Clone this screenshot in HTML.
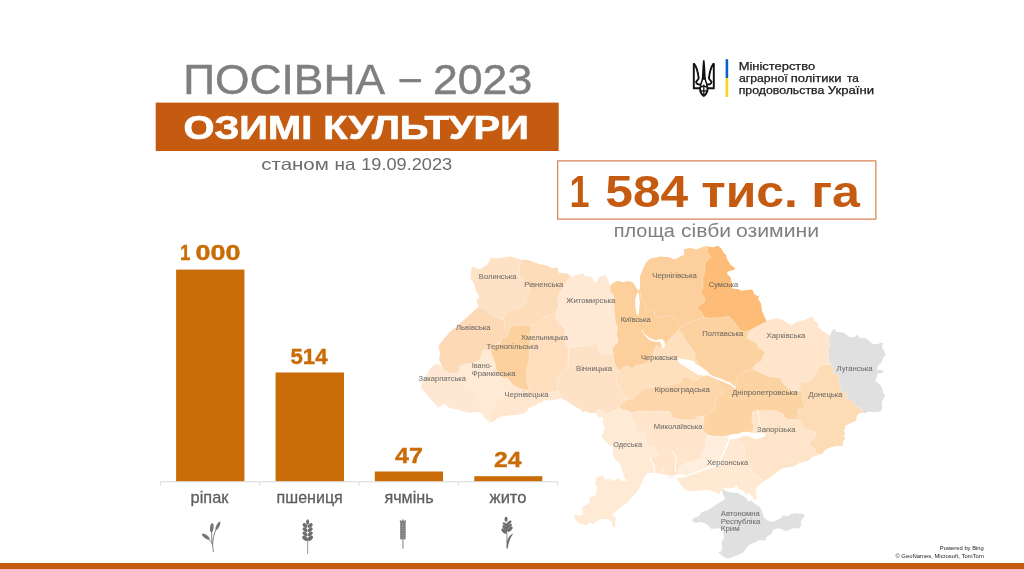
<!DOCTYPE html>
<html lang="uk">
<head>
<meta charset="utf-8">
<title>Посівна – 2023. Озимі культури</title>
<style>
html,body{margin:0;padding:0;background:#fff;}
body{width:1024px;height:569px;overflow:hidden;}
svg{display:block;font-family:"Liberation Sans",sans-serif;}
</style>
</head>
<body>
<svg width="1024" height="569" viewBox="0 0 1024 569">
<rect width="1024" height="569" fill="#ffffff"/>
<defs><clipPath id="ua"><polygon points="455.4,327.6 467.9,316.6 478.8,306.5 476.5,300.2 479.6,297.1 476.5,291.6 474.1,283.8 470.7,278.3 471.8,266.6 478.0,268.9 480.4,268.9 488.2,264.2 490.5,257.5 497.6,258.5 503.8,257.5 510.1,256.4 517.9,258.8 521.4,260.3 525.7,259.5 533.6,261.9 539.8,264.2 547.6,265.8 552.3,268.2 557.8,267.4 558.6,272.8 566.4,273.6 570.2,275.2 571.7,277.5 575.6,275.2 582.7,273.6 585.0,276.0 591.3,276.8 593.6,281.4 596.8,282.2 599.1,276.8 605.4,275.2 607.7,279.1 610.0,285.4 613.2,283.0 617.9,280.7 622.6,282.2 628.8,281.0 633.5,283.0 636.6,288.5 639.0,290.8 640.5,286.9 639.8,277.5 642.1,271.3 645.2,263.5 649.9,258.8 653.8,258.0 660.1,256.4 669.5,257.2 674.2,259.5 680.4,256.4 684.3,254.9 683.6,249.4 689.8,247.8 696.1,249.4 703.9,246.6 707.8,246.3 711.9,247.5 718.2,245.9 721.3,248.6 723.6,252.5 726.0,254.9 726.8,258.8 730.7,265.0 734.6,267.4 734.6,269.7 728.3,271.3 726.8,273.6 730.7,277.5 731.4,281.4 732.2,285.4 732.2,288.5 738.5,289.3 741.6,290.8 748.6,289.7 752.6,289.7 754.1,294.0 757.3,296.0 759.6,295.5 758.0,298.6 761.2,304.1 761.9,310.4 764.3,316.6 766.9,321.6 771.3,319.8 777.6,318.2 782.3,319.8 787.0,322.9 791.7,325.2 796.3,322.1 802.6,320.5 808.9,318.2 812.8,316.6 813.6,320.3 817.5,322.7 818.3,327.4 823.0,331.3 826.9,333.6 830.0,336.0 832.4,330.5 834.7,328.9 836.3,332.1 844.1,332.8 848.8,336.8 854.3,337.5 857.4,334.4 859.8,338.3 866.0,338.3 869.9,341.4 873.1,344.6 878.5,343.8 883.2,342.2 881.7,346.9 884.0,350.8 885.6,354.7 882.4,358.6 881.7,362.6 877.7,365.7 877.0,369.6 883.2,370.4 883.2,372.7 877.7,373.5 875.4,381.3 880.1,384.5 882.4,388.8 883.2,393.5 885.6,395.0 883.2,398.9 881.7,402.8 882.4,406.8 880.9,411.4 873.8,412.2 869.1,411.4 864.5,413.0 862.9,412.2 858.2,413.8 856.6,416.9 855.9,420.8 850.4,423.2 845.7,425.5 844.1,430.2 844.9,434.1 843.3,437.3 845.7,438.0 842.6,441.9 842.6,445.9 836.3,445.9 830.0,447.4 825.4,449.8 822.2,453.7 819.9,454.5 812.6,457.1 807.9,461.0 800.1,462.6 793.8,466.5 787.6,467.3 781.3,468.8 775.1,473.5 768.8,478.2 765.7,479.8 767.0,478.1 763.8,481.3 757.6,485.9 755.2,490.6 756.8,496.9 755.2,500.8 751.3,495.3 748.2,492.2 746.6,495.3 743.5,490.6 738.8,489.1 736.5,484.4 734.1,487.5 729.4,488.3 722.4,488.3 721.6,489.9 718.5,494.5 715.4,492.2 710.7,490.6 704.4,489.9 698.2,490.6 691.9,491.4 685.6,489.9 682.5,486.7 679.4,482.0 676.3,478.1 669.5,478.1 666.3,476.6 672.6,477.4 678.9,478.2 685.1,477.4 685.1,475.1 678.9,473.5 672.6,475.9 666.3,475.1 660.1,473.5 653.8,472.7 647.6,473.5 644.5,476.6 642.9,481.3 639.8,487.5 636.6,493.0 631.2,497.7 629.6,500.8 622.6,506.3 614.0,513.3 612.4,516.0 616.0,517.2 615.5,521.9 615.1,527.9 613.2,527.4 611.6,521.9 608.5,519.6 603.8,518.8 598.3,520.4 592.8,524.3 588.9,522.7 586.6,525.8 579.5,523.5 575.6,520.4 574.1,516.0 575.6,514.1 579.5,516.0 582.7,514.1 581.9,508.6 583.5,506.3 588.9,503.2 589.7,497.7 595.2,495.3 596.0,492.2 597.5,488.3 595.2,484.4 596.0,479.7 595.2,479.0 598.3,476.6 602.2,475.1 605.4,479.8 610.0,478.2 613.2,481.3 617.9,477.4 621.8,481.3 626.5,480.5 624.1,476.6 621.8,470.4 621.0,465.7 617.1,461.8 614.0,457.9 612.4,451.6 613.2,446.9 608.5,444.6 605.4,441.4 601.4,436.8 603.0,433.6 604.6,427.4 603.0,423.5 603.0,418.0 598.3,417.2 595.2,413.3 589.2,412.8 586.1,411.3 582.9,412.1 579.8,408.9 575.1,406.6 570.4,403.5 565.7,400.3 561.0,398.0 556.3,399.5 550.1,400.3 543.8,400.3 540.7,403.5 539.1,402.7 535.2,405.8 529.8,407.4 526.6,410.5 523.5,413.6 515.7,414.7 509.4,415.2 501.6,416.0 496.9,418.3 493.8,421.4 489.1,421.4 484.4,417.5 481.3,412.8 475.0,412.1 468.8,412.8 462.5,411.3 456.3,408.9 450.0,408.2 444.0,403.5 437.7,407.5 433.7,401.9 430.6,399.6 425.0,392.5 420.8,386.9 421.9,382.2 428.2,372.7 429.8,368.7 433.7,365.6 436.1,363.7 442.4,366.4 439.2,360.0 440.0,353.7 438.5,345.8 442.8,340.3 450.7,330.9"/></clipPath></defs>
<polygon points="722.4,488.3 724.7,490.6 729.4,492.2 737.3,493.0 741.9,495.3 746.6,498.5 748.2,501.6 751.3,500.8 755.2,503.9 759.9,507.1 762.3,511.8 763.8,517.2 767.7,520.4 771.7,521.9 776.3,520.4 781.0,518.0 783.4,514.9 787.3,516.4 791.2,514.1 796.7,513.3 802.9,514.1 805.3,516.0 802.9,518.0 800.6,521.9 801.4,525.0 799.0,528.2 793.6,528.2 788.9,529.7 785.7,531.3 781.8,529.0 777.9,528.2 773.2,529.7 771.7,533.6 767.0,536.8 764.6,540.7 759.9,539.9 755.2,542.3 749.8,544.6 745.9,548.5 743.5,552.4 738.8,554.8 732.6,557.1 727.9,558.7 724.0,557.1 720.0,554.0 718.2,552.4 721.6,550.9 722.4,546.2 721.6,542.3 724.0,537.6 723.2,532.9 724.0,529.0 716.9,528.2 711.4,529.0 706.8,524.3 701.3,521.9 695.0,522.7 691.9,521.1 693.5,518.0 698.9,516.0 701.3,512.5 707.5,510.2 713.8,506.3 718.5,503.2 722.4,500.8 725.5,498.5 723.2,495.3 722.4,492.2" fill="#e0e0e0"/>
<g clip-path="url(#ua)" stroke="#ffffff" stroke-opacity="0.55" stroke-width="0.6" stroke-linejoin="round">
<polygon points="455.4,327.6 467.9,316.6 478.8,306.5 476.5,300.2 479.6,297.1 476.5,291.6 474.1,283.8 470.7,278.3 471.8,266.6 478.0,268.9 480.4,268.9 488.2,264.2 490.5,257.5 497.6,258.5 503.8,257.5 510.1,256.4 517.9,258.8 521.4,260.3 525.7,259.5 533.6,261.9 539.8,264.2 547.6,265.8 552.3,268.2 557.8,267.4 558.6,272.8 566.4,273.6 570.2,275.2 571.7,277.5 575.6,275.2 582.7,273.6 585.0,276.0 591.3,276.8 593.6,281.4 596.8,282.2 599.1,276.8 605.4,275.2 607.7,279.1 610.0,285.4 613.2,283.0 617.9,280.7 622.6,282.2 628.8,281.0 633.5,283.0 636.6,288.5 639.0,290.8 640.5,286.9 639.8,277.5 642.1,271.3 645.2,263.5 649.9,258.8 653.8,258.0 660.1,256.4 669.5,257.2 674.2,259.5 680.4,256.4 684.3,254.9 683.6,249.4 689.8,247.8 696.1,249.4 703.9,246.6 707.8,246.3 711.9,247.5 718.2,245.9 721.3,248.6 723.6,252.5 726.0,254.9 726.8,258.8 730.7,265.0 734.6,267.4 734.6,269.7 728.3,271.3 726.8,273.6 730.7,277.5 731.4,281.4 732.2,285.4 732.2,288.5 738.5,289.3 741.6,290.8 748.6,289.7 752.6,289.7 754.1,294.0 757.3,296.0 759.6,295.5 758.0,298.6 761.2,304.1 761.9,310.4 764.3,316.6 766.9,321.6 771.3,319.8 777.6,318.2 782.3,319.8 787.0,322.9 791.7,325.2 796.3,322.1 802.6,320.5 808.9,318.2 812.8,316.6 813.6,320.3 817.5,322.7 818.3,327.4 823.0,331.3 826.9,333.6 830.0,336.0 832.4,330.5 834.7,328.9 836.3,332.1 844.1,332.8 848.8,336.8 854.3,337.5 857.4,334.4 859.8,338.3 866.0,338.3 869.9,341.4 873.1,344.6 878.5,343.8 883.2,342.2 881.7,346.9 884.0,350.8 885.6,354.7 882.4,358.6 881.7,362.6 877.7,365.7 877.0,369.6 883.2,370.4 883.2,372.7 877.7,373.5 875.4,381.3 880.1,384.5 882.4,388.8 883.2,393.5 885.6,395.0 883.2,398.9 881.7,402.8 882.4,406.8 880.9,411.4 873.8,412.2 869.1,411.4 864.5,413.0 862.9,412.2 858.2,413.8 856.6,416.9 855.9,420.8 850.4,423.2 845.7,425.5 844.1,430.2 844.9,434.1 843.3,437.3 845.7,438.0 842.6,441.9 842.6,445.9 836.3,445.9 830.0,447.4 825.4,449.8 822.2,453.7 819.9,454.5 812.6,457.1 807.9,461.0 800.1,462.6 793.8,466.5 787.6,467.3 781.3,468.8 775.1,473.5 768.8,478.2 765.7,479.8 767.0,478.1 763.8,481.3 757.6,485.9 755.2,490.6 756.8,496.9 755.2,500.8 751.3,495.3 748.2,492.2 746.6,495.3 743.5,490.6 738.8,489.1 736.5,484.4 734.1,487.5 729.4,488.3 722.4,488.3 721.6,489.9 718.5,494.5 715.4,492.2 710.7,490.6 704.4,489.9 698.2,490.6 691.9,491.4 685.6,489.9 682.5,486.7 679.4,482.0 676.3,478.1 669.5,478.1 666.3,476.6 672.6,477.4 678.9,478.2 685.1,477.4 685.1,475.1 678.9,473.5 672.6,475.9 666.3,475.1 660.1,473.5 653.8,472.7 647.6,473.5 644.5,476.6 642.9,481.3 639.8,487.5 636.6,493.0 631.2,497.7 629.6,500.8 622.6,506.3 614.0,513.3 612.4,516.0 616.0,517.2 615.5,521.9 615.1,527.9 613.2,527.4 611.6,521.9 608.5,519.6 603.8,518.8 598.3,520.4 592.8,524.3 588.9,522.7 586.6,525.8 579.5,523.5 575.6,520.4 574.1,516.0 575.6,514.1 579.5,516.0 582.7,514.1 581.9,508.6 583.5,506.3 588.9,503.2 589.7,497.7 595.2,495.3 596.0,492.2 597.5,488.3 595.2,484.4 596.0,479.7 595.2,479.0 598.3,476.6 602.2,475.1 605.4,479.8 610.0,478.2 613.2,481.3 617.9,477.4 621.8,481.3 626.5,480.5 624.1,476.6 621.8,470.4 621.0,465.7 617.1,461.8 614.0,457.9 612.4,451.6 613.2,446.9 608.5,444.6 605.4,441.4 601.4,436.8 603.0,433.6 604.6,427.4 603.0,423.5 603.0,418.0 598.3,417.2 595.2,413.3 589.2,412.8 586.1,411.3 582.9,412.1 579.8,408.9 575.1,406.6 570.4,403.5 565.7,400.3 561.0,398.0 556.3,399.5 550.1,400.3 543.8,400.3 540.7,403.5 539.1,402.7 535.2,405.8 529.8,407.4 526.6,410.5 523.5,413.6 515.7,414.7 509.4,415.2 501.6,416.0 496.9,418.3 493.8,421.4 489.1,421.4 484.4,417.5 481.3,412.8 475.0,412.1 468.8,412.8 462.5,411.3 456.3,408.9 450.0,408.2 444.0,403.5 437.7,407.5 433.7,401.9 430.6,399.6 425.0,392.5 420.8,386.9 421.9,382.2 428.2,372.7 429.8,368.7 433.7,365.6 436.1,363.7 442.4,366.4 439.2,360.0 440.0,353.7 438.5,345.8 442.8,340.3 450.7,330.9" fill="#ffead5" stroke="none"/>
<polygon points="410.0,350.0 460.0,365.0 470.0,385.0 490.0,410.0 495.0,430.0 410.0,430.0" fill="#fee8d3"/>
<polygon points="458.7,371.4 460.6,377.4 461.7,380.0 465.6,386.3 471.9,390.9 476.6,395.6 480.5,401.9 482.8,408.2 482.1,412.1 484.0,430.0 510.0,430.0 540.0,395.0 500.0,340.0 470.0,345.0 455.0,368.0" fill="#ffead6"/>
<polygon points="512.4,384.5 504.0,395.6 498.5,400.3 493.8,405.0 490.7,409.7 489.9,416.0 491.0,421.4 491.0,427.0 520.0,427.0 566.0,407.0 566.0,385.0 511.0,380.0" fill="#fee6cf"/>
<polygon points="442.4,366.4 444.0,370.3 450.3,373.5 457.4,372.7 458.7,371.4 460.6,365.6 466.9,363.7 473.2,363.2 478.8,360.8 481.1,356.1 483.5,349.8 490.6,351.3 495.0,345.0 512.0,335.0 512.0,312.0 478.0,298.0 425.0,340.0 438.0,362.0" fill="#fdd9b5"/>
<polygon points="478.8,306.5 485.1,309.6 491.3,314.3 497.6,317.9 503.8,319.8 530.0,322.0 535.0,255.0 470.0,250.0 462.0,295.0" fill="#fee2c5"/>
<polygon points="521.4,260.3 519.9,265.0 519.0,271.3 519.5,277.5 524.2,281.0 528.9,286.9 529.6,291.6 527.0,296.3 526.5,301.8 523.4,306.5 519.5,308.0 510.1,310.1 504.9,313.5 503.8,319.8 504.8,324.2 504.2,327.1 506.0,329.8 508.3,331.0 510.0,336.0 575.0,336.0 578.0,265.0 521.0,250.0" fill="#fddcb9"/>
<polygon points="508.3,331.0 510.4,328.3 512.1,325.9 516.6,325.3 522.4,325.0 528.3,325.3 530.7,325.9 533.0,328.5 540.0,332.0 540.0,395.0 527.0,393.0 528.6,391.8 526.0,390.6 521.2,388.9 516.5,387.1 512.4,384.5 510.1,381.2 507.1,377.9 502.6,378.6 500.6,375.3 495.9,369.4 495.3,364.1 493.6,360.0 492.0,355.3 490.5,350.5 494.0,347.3 500.1,343.0 501.2,339.5 507.7,335.3 508.3,331.0" fill="#fdd19e"/>
<polygon points="530.7,325.9 534.2,324.2 540.1,320.6 546.0,316.5 553.1,313.6 557.0,314.0 576.0,310.0 576.0,396.0 557.9,390.9 551.7,391.7 543.8,394.1 537.6,394.9 529.8,391.7 526.5,390.7 528.9,388.8 527.3,382.6 526.5,374.7 527.3,366.9 529.6,359.1 528.9,351.3 530.4,343.5 529.6,335.6 531.2,327.8" fill="#fedebc"/>
<polygon points="570.2,276.3 566.3,282.2 561.6,290.0 560.1,291.6 557.8,299.4 558.6,305.7 556.2,313.5 556.4,320.0 560.3,324.7 565.0,329.4 565.8,337.2 565.0,343.5 568.2,348.2 568.0,362.0 622.0,362.0 625.0,280.0 600.0,262.0 570.0,262.0" fill="#ffe9d5"/>
<polygon points="568.2,348.2 576.0,346.6 586.9,345.8 594.7,343.5 598.6,345.0 599.4,352.8 605.7,354.7 611.2,353.6 612.3,348.2 630.0,346.0 632.0,405.0 618.6,407.0 616.3,409.4 611.6,412.5 605.4,413.3 598.3,409.4 595.2,413.3 590.0,422.0 563.0,410.0 561.0,398.0 559.5,395.6 557.9,390.9 557.1,387.8 557.2,379.4 560.3,373.2 565.8,370.0 568.2,365.4 568.9,356.0 568.2,348.2" fill="#fee2c6"/>
<polygon points="610.4,286.9 610.0,291.6 614.0,295.5 614.0,305.7 614.7,315.1 615.1,320.0 617.4,327.8 616.6,335.6 618.2,341.9 612.3,348.2 613.5,356.0 614.3,363.0 618.2,370.0 619.0,370.8 640.0,375.0 670.0,362.0 692.0,335.0 690.0,308.0 650.0,295.0 645.0,275.0 610.0,270.0" fill="#fdcf9b"/>
<polygon points="639.0,290.8 640.5,291.6 641.3,299.4 645.2,304.1 646.0,308.8 653.8,311.2 656.2,316.6 663.2,317.4 669.5,315.1 675.7,318.2 678.9,324.5 681.2,326.8 690.0,333.0 725.0,325.0 720.0,238.0 639.0,245.0" fill="#fccf9c"/>
<polygon points="619.0,370.8 622.9,366.9 627.6,366.1 632.3,368.5 635.4,365.4 641.7,364.6 647.9,362.2 652.6,356.0 654.2,349.7 656.5,345.8 661.2,347.4 662.8,348.2 665.1,345.0 672.9,335.6 677.6,330.9 685.0,328.0 700.0,345.0 705.0,375.0 690.0,395.0 640.0,405.0 626.0,399.8 625.2,399.8 622.9,393.5 620.5,387.3 616.6,382.6 615.9,375.5" fill="#fedfbe"/>
<polygon points="626.0,399.8 633.8,398.2 638.5,393.5 641.7,388.8 649.5,387.6 657.3,386.5 665.1,385.7 674.5,384.1 680.8,381.8 682.3,377.1 688.6,376.3 692.5,380.2 698.0,379.4 700.0,377.9 704.0,375.0 712.0,372.0 728.0,378.0 728.0,420.0 636.0,424.0 631.2,413.3 628.8,410.9 622.6,409.4 618.6,407.0 621.3,404.5" fill="#fdd6ab"/>
<polygon points="631.0,413.3 636.9,410.9 648.6,411.4 660.3,410.9 669.7,411.9 672.5,417.3 679.1,419.6 688.4,420.3 695.0,419.6 696.6,417.3 702.5,416.1 703.9,416.4 714.0,416.0 716.0,475.0 690.0,482.0 656.0,480.0 655.4,472.7 654.6,465.7 652.3,462.6 650.7,456.3 653.8,457.9 657.7,456.3 658.5,452.4 654.6,450.0 653.8,446.9 647.6,445.4 646.0,439.1 644.5,433.6 638.2,432.8 634.3,429.7 635.1,423.5 631.9,418.8" fill="#fee5cc"/>
<polygon points="708.0,246.3 707.2,252.5 711.1,257.2 707.2,260.3 704.4,265.0 704.9,271.3 702.5,279.1 703.3,285.4 700.9,293.2 704.9,297.9 704.1,302.6 698.6,305.7 697.5,308.8 701.7,311.9 704.1,317.4 706.0,335.0 775.0,335.0 775.0,300.0 745.0,240.0 708.0,236.0" fill="#fdbd78"/>
<polygon points="681.2,326.8 685.1,324.5 692.9,321.3 700.8,318.2 703.9,317.4 710.3,318.2 721.3,317.4 729.1,316.6 733.0,320.5 736.9,325.5 740.0,330.2 744.7,331.7 750.2,330.2 772.0,335.0 772.0,375.0 750.0,392.0 735.4,390.0 735.4,387.3 730.7,382.6 724.4,381.0 718.2,378.6 708.8,375.5 705.6,371.6 699.4,365.4 694.7,357.5 694.8,352.8 690.1,346.6 685.4,340.3 681.5,332.5 677.6,330.9" fill="#fcd2a0"/>
<polygon points="766.9,321.6 763.5,323.1 757.3,326.3 750.2,330.2 747.1,338.0 752.6,341.1 757.3,343.5 758.8,348.2 764.3,351.3 765.1,353.6 762.7,356.0 761.9,360.7 755.7,364.6 753.3,366.9 754.1,370.0 755.7,370.0 758.0,396.0 805.0,396.0 838.0,372.0 842.0,330.0 815.0,308.0 768.0,312.0" fill="#fee5cb"/>
<polygon points="755.7,370.0 761.9,373.2 768.2,376.3 774.5,377.1 780.7,377.9 783.1,383.3 787.0,387.3 791.7,390.4 792.4,390.4 808.0,392.0 808.0,428.0 780.0,442.0 708.0,442.0 707.8,435.2 706.2,433.6 702.3,429.3 703.5,423.5 703.9,416.4 706.3,415.6 709.4,411.7 715.6,409.4 715.6,404.0 716.6,398.2 721.3,393.5 723.6,388.8 718.2,384.9 718.2,380.0 718.2,378.6 724.4,381.0 730.7,382.6 735.4,387.3 735.4,387.3 736.1,381.0 738.5,375.5 743.2,372.4 749.4,369.7" fill="#fcd3a2"/>
<polygon points="706.3,435.2 712.5,436.0 720.3,436.8 728.2,436.0 745.0,432.0 765.0,440.0 772.0,485.0 760.0,500.0 680.0,500.0 660.0,482.0 676.0,477.0 678.9,472.7 678.1,468.8 682.0,465.7 688.2,462.6 697.6,460.2 703.9,457.9 701.5,453.2 703.9,450.0 707.0,445.4 705.4,440.7 707.8,435.2" fill="#ffe9d3"/>
<polygon points="706.3,435.2 712.5,436.0 720.3,436.8 728.2,436.0 729.3,439.0 727.2,444.7 725.3,449.1 723.4,453.6 721.5,456.7 719.0,464.3 685.1,476.3 683.6,474.8 678.9,472.7 678.1,468.8 682.0,465.7 688.2,462.6 697.6,460.2 703.9,457.9 701.5,453.2 703.9,450.0 707.0,445.4 705.4,440.7 707.8,435.2" fill="#ffeedd"/>
<polygon points="739.1,439.9 745.0,434.0 750.0,432.0 753.2,431.3 754.0,425.8 751.6,421.9 752.4,417.2 752.4,411.7 757.9,410.2 764.1,410.9 771.9,410.2 778.2,411.7 782.9,414.1 785.2,418.0 790.7,419.5 797.7,419.5 818.0,418.0 828.0,458.0 800.0,480.0 762.0,492.0 761.8,479.8 759.4,476.6 752.4,473.5 750.8,468.8 748.5,462.6 745.4,456.3 744.6,450.0 742.2,443.8" fill="#fee5ca"/>
<polygon points="792.4,390.4 799.5,387.3 800.3,382.6 807.3,381.8 813.6,377.9 815.1,374.0 819.8,366.9 822.9,364.6 829.2,364.6 831.6,364.9 845.0,362.0 870.0,415.0 850.0,440.0 830.0,465.0 818.9,454.0 815.7,453.2 814.2,448.5 809.5,445.4 810.3,440.7 815.0,437.5 816.5,432.8 809.5,430.5 804.0,428.2 801.7,423.5 797.7,419.5 798.5,414.1 797.7,410.2 804.0,408.6 804.8,404.7 801.8,399.8 802.6,393.5 799.5,389.6" fill="#fddbb5"/>
<polygon points="830.0,336.0 828.5,342.2 830.0,345.4 828.2,350.0 828.5,356.3 829.7,362.6 831.6,364.9 834.0,368.8 833.2,373.5 837.9,374.3 839.4,379.4 840.2,387.2 841.8,391.9 847.3,393.5 845.7,397.4 850.4,399.7 853.5,402.8 856.6,406.8 861.3,408.3 862.9,412.2 870.0,420.0 895.0,400.0 895.0,320.0 830.0,320.0" fill="#e0e0e0"/>
<polygon points="637.4,292.4 639.0,293.2 639.8,302.6 639.0,311.9 638.2,315.9 636.6,313.5 635.4,307.3 635.1,299.4 636.6,294.7" fill="#ffffff" stroke="none"/>
<polygon points="641.7,328.6 644.0,333.3 649.5,338.0 655.7,340.3 661.2,338.8 664.3,341.1 665.1,345.8 662.8,348.9 661.2,345.0 660.4,341.9 655.7,341.9 649.5,340.3 644.8,335.6 642.4,331.7" fill="#ffffff" stroke="none"/>
<polygon points="677.6,357.9 685.8,359.5 693.8,361.1 695.7,364.2 700.4,366.6 705.1,369.8 709.1,372.9 708.3,375.8 704.8,375.5 698.5,375.1 693.4,372.0 687.1,368.0 680.8,364.1 677.6,360.9" fill="#ffffff" stroke="none"/>
<polygon points="728.5,435.2 732.9,433.9 737.9,433.9 743.0,432.0 748.1,432.0 754.4,433.3 760.7,432.7 765.8,433.4 765.1,436.5 760.7,437.7 755.7,439.6 751.9,437.7 746.8,435.8 741.7,436.5 736.7,438.4 731.6,439.6 728.5,439.0" fill="#ffffff" stroke="none"/>
<polyline points="708.3,374.5 714.3,377.2 719.1,379.1 725.4,381.9 730.9,384.3 735.7,388.1" fill="none" stroke="#ffffff" stroke-opacity="1" stroke-width="1.7"/>
<polyline points="729.3,439.0 727.2,444.7 725.3,449.1 723.4,453.6 721.5,456.7 719.0,464.3 685.1,476.3" fill="none" stroke="#ffffff" stroke-opacity="1" stroke-width="1.4"/>
<polyline points="757.9,410.9 758.6,415.6 759.4,420.3 760.2,425.0 761.0,432.1" fill="none" stroke="#ffffff" stroke-opacity="1" stroke-width="0.8"/>
<polyline points="672.6,450.8 675.0,456.3 676.5,461.0 675.0,465.7 675.7,472.7" fill="none" stroke="#ffffff" stroke-opacity="1" stroke-width="0.9"/>
<polyline points="649.9,456.3 651.5,461.0 653.8,464.1 654.6,469.6 655.1,473.2" fill="none" stroke="#ffffff" stroke-opacity="1" stroke-width="0.9"/>
<polyline points="663.2,467.3 662.0,473.2" fill="none" stroke="#ffffff" stroke-opacity="1" stroke-width="0.7"/>
</g>
<g font-size="7.6" fill="#595959" fill-opacity="0.82" stroke="#595959" stroke-opacity="0.5" stroke-width="0.12">
<text x="478.8" y="278.8" textLength="37.6" lengthAdjust="spacingAndGlyphs">Волинська</text>
<text x="524.2" y="286.9" textLength="39.0" lengthAdjust="spacingAndGlyphs">Рівненська</text>
<text x="566.3" y="303.3" textLength="49.0" lengthAdjust="spacingAndGlyphs">Житомирська</text>
<text x="620.7" y="322.1" textLength="30.0" lengthAdjust="spacingAndGlyphs">Київська</text>
<text x="652.3" y="277.5" textLength="44.6" lengthAdjust="spacingAndGlyphs">Чернігівська</text>
<text x="708.8" y="286.6" textLength="29.4" lengthAdjust="spacingAndGlyphs">Сумська</text>
<text x="456.1" y="329.7" textLength="34.4" lengthAdjust="spacingAndGlyphs">Львівська</text>
<text x="521.0" y="340.3" textLength="47.0" lengthAdjust="spacingAndGlyphs">Хмельницька</text>
<text x="486.6" y="348.9" textLength="51.6" lengthAdjust="spacingAndGlyphs">Тернопільська</text>
<text x="471.8" y="368.2" textLength="20.3" lengthAdjust="spacingAndGlyphs">Івано-</text>
<text x="471.8" y="375.5" textLength="43.8" lengthAdjust="spacingAndGlyphs">Франківська</text>
<text x="418.6" y="381.3" textLength="47.4" lengthAdjust="spacingAndGlyphs">Закарпатська</text>
<text x="504.6" y="397.0" textLength="43.8" lengthAdjust="spacingAndGlyphs">Чернівецька</text>
<text x="576.0" y="371.3" textLength="36.0" lengthAdjust="spacingAndGlyphs">Вінницька</text>
<text x="640.9" y="359.9" textLength="36.7" lengthAdjust="spacingAndGlyphs">Черкаська</text>
<text x="654.5" y="391.9" textLength="55.3" lengthAdjust="spacingAndGlyphs">Кіровоградська</text>
<text x="702.2" y="336.4" textLength="41.0" lengthAdjust="spacingAndGlyphs">Полтавська</text>
<text x="766.6" y="338.0" textLength="38.8" lengthAdjust="spacingAndGlyphs">Харківська</text>
<text x="836.6" y="370.7" textLength="36.0" lengthAdjust="spacingAndGlyphs">Луганська</text>
<text x="808.5" y="397.0" textLength="34.0" lengthAdjust="spacingAndGlyphs">Донецька</text>
<text x="731.9" y="394.8" textLength="65.7" lengthAdjust="spacingAndGlyphs">Дніпропетровська</text>
<text x="757.1" y="431.6" textLength="38.3" lengthAdjust="spacingAndGlyphs">Запорізька</text>
<text x="707.0" y="464.9" textLength="41.2" lengthAdjust="spacingAndGlyphs">Херсонська</text>
<text x="653.8" y="428.9" textLength="48.8" lengthAdjust="spacingAndGlyphs">Миколаївська</text>
<text x="613.2" y="447.4" textLength="28.9" lengthAdjust="spacingAndGlyphs">Одеська</text>
<text x="720.8" y="516.0" textLength="39.0" lengthAdjust="spacingAndGlyphs">Автономна</text>
<text x="720.8" y="523.5" textLength="39.6" lengthAdjust="spacingAndGlyphs">Республіка</text>
<text x="720.8" y="531.0" textLength="18.8" lengthAdjust="spacingAndGlyphs">Крим</text>
</g>
<text y="94.0" font-size="43.2" fill="#7f7f7f" font-weight="normal" stroke="#7f7f7f" stroke-width="0.5"><tspan x="183.2" y="94.0" textLength="201.8" lengthAdjust="spacingAndGlyphs">ПОСІВНА</tspan> <tspan x="399.8" y="90.7" textLength="21.1" lengthAdjust="spacingAndGlyphs">–</tspan> <tspan x="433.0" y="94.0" textLength="99.2" lengthAdjust="spacingAndGlyphs">2023</tspan></text>
<rect x="155.7" y="102.6" width="403" height="48.4" fill="#c55a11"/>
<text x="183.4" y="139.1" font-size="32.8" fill="#ffffff" font-weight="bold" text-anchor="start" textLength="345.4" lengthAdjust="spacingAndGlyphs" stroke="#ffffff" stroke-width="0.7">ОЗИМІ КУЛЬТУРИ</text>
<text y="169.9" font-size="16.5" fill="#6b6b6b" font-weight="normal"><tspan x="261.3" y="169.9" textLength="67.5" lengthAdjust="spacingAndGlyphs">станом</tspan> <tspan x="334.6" y="169.9" textLength="21.0" lengthAdjust="spacingAndGlyphs">на</tspan> <tspan x="361.2" y="169.9" textLength="91.0" lengthAdjust="spacingAndGlyphs">19.09.2023</tspan></text>
<rect x="725.6" y="59.2" width="2.6" height="18.9" fill="#0f5fc2"/>
<rect x="725.6" y="78.1" width="2.6" height="18.9" fill="#ffd21f"/>
<text x="738.7" y="70.1" font-size="10.4" fill="#1a1a1a" font-weight="normal" text-anchor="start" textLength="76.5" lengthAdjust="spacingAndGlyphs" stroke="#1a1a1a" stroke-width="0.25">Міністерство</text>
<text y="82.2" font-size="10.4" fill="#1a1a1a" font-weight="normal" stroke="#1a1a1a" stroke-width="0.25"><tspan x="739.0" y="82.2" textLength="48.6" lengthAdjust="spacingAndGlyphs">аграрної</tspan> <tspan x="790.8" y="82.2" textLength="50.6" lengthAdjust="spacingAndGlyphs">політики</tspan> <tspan x="846.9" y="82.2" textLength="11.8" lengthAdjust="spacingAndGlyphs">та</tspan></text>
<text y="93.9" font-size="10.4" fill="#1a1a1a" font-weight="normal" stroke="#1a1a1a" stroke-width="0.25"><tspan x="738.7" y="93.9" textLength="85.6" lengthAdjust="spacingAndGlyphs">продовольства</tspan> <tspan x="827.8" y="93.9" textLength="46.2" lengthAdjust="spacingAndGlyphs">України</tspan></text>
<g transform="translate(692.9,59.7)" fill="none" stroke="#111" stroke-width="1.9" stroke-linejoin="miter">
<path d="M0.9,3.6 L0.9,28.6 L7.6,28.6"/>
<path d="M0.9,3.6 C3.6,7 5.2,13 5.8,18.5 C5.2,20.2 4,21 3.2,22.2 C3.4,24.4 5.4,25.2 7.8,24.6"/>
<path d="M20.9,3.6 L20.9,28.6 L14.2,28.6"/>
<path d="M20.9,3.6 C18.2,7 16.6,13 16,18.5 C16.6,20.2 17.8,21 18.6,22.2 C18.4,24.4 16.4,25.2 14,24.6"/>
<path d="M10.9,0.6 C10.2,6 10.1,13 9.6,19 C9.2,22 7.8,23.6 7.8,25.4 C7.8,27.2 9.4,27.6 10.9,25.8 C12.4,27.6 14,27.2 14,25.4 C14,23.6 12.6,22 12.2,19 C11.7,13 11.6,6 10.9,0.6 Z" stroke-width="1.5"/>
<path d="M7.6,26.5 C6.4,30.5 8.2,34.2 10.9,36.2 C13.6,34.2 15.4,30.5 14.2,26.5"/>
<path d="M10.9,26.5 L10.9,36" stroke-width="1.3"/>
<path d="M10.9,0.2 L12.1,20 L9.7,20 Z" fill="#111" stroke="none"/>
<path d="M7.4,31.2 L14.4,31.2" stroke-width="1.3"/>
</g>
<rect x="557.7" y="160.9" width="318.2" height="58.2" fill="#ffffff" stroke="#cc6a2b" stroke-width="1"/>
<text y="206.6" font-size="43.6" fill="#c55a11" font-weight="bold"><tspan x="569.6" y="206.6" textLength="20.0" lengthAdjust="spacingAndGlyphs">1</tspan> <tspan x="605.3" y="206.6" textLength="82.9" lengthAdjust="spacingAndGlyphs">584</tspan> <tspan x="701.3" y="206.6" textLength="96.6" lengthAdjust="spacingAndGlyphs">тис.</tspan> <tspan x="811.2" y="206.6" textLength="48.8" lengthAdjust="spacingAndGlyphs">га</tspan></text>
<text y="237.2" font-size="18" fill="#7f7f7f" font-weight="normal"><tspan x="613.7" y="237.2" textLength="61.2" lengthAdjust="spacingAndGlyphs">площа</tspan> <tspan x="681.0" y="237.2" textLength="50.0" lengthAdjust="spacingAndGlyphs">сівби</tspan> <tspan x="735.9" y="237.2" textLength="83.2" lengthAdjust="spacingAndGlyphs">озимини</tspan></text>
<rect x="176.1" y="269.6" width="68.3" height="211.9" fill="#c96c07"/>
<rect x="275.6" y="372.5" width="68.4" height="109" fill="#c96c07"/>
<rect x="374.8" y="471.5" width="68.2" height="10" fill="#c96c07"/>
<rect x="474.3" y="476.2" width="68" height="5.3" fill="#c96c07"/>
<path d="M160.4,485.4 V481.8 H557.6 V485.4 M259.7,481.8 V485.4 M359,481.8 V485.4 M458.3,481.8 V485.4" fill="none" stroke="#d9d9d9" stroke-width="1"/>
<text y="260.0" font-size="22.4" fill="#c96c07" font-weight="bold" stroke="#c96c07" stroke-width="0.4"><tspan x="180.0" y="260.0" textLength="10.4" lengthAdjust="spacingAndGlyphs">1</tspan> <tspan x="195.5" y="260.0" textLength="44.9" lengthAdjust="spacingAndGlyphs">000</tspan></text>
<text x="290.5" y="363.5" font-size="22.4" fill="#c96c07" font-weight="bold" text-anchor="start" textLength="37.1" lengthAdjust="spacingAndGlyphs" stroke="#c96c07" stroke-width="0.4">514</text>
<text x="395.0" y="462.5" font-size="22.4" fill="#c96c07" font-weight="bold" text-anchor="start" textLength="27.8" lengthAdjust="spacingAndGlyphs" stroke="#c96c07" stroke-width="0.4">47</text>
<text x="494.0" y="467.4" font-size="22.4" fill="#c96c07" font-weight="bold" text-anchor="start" textLength="27.5" lengthAdjust="spacingAndGlyphs" stroke="#c96c07" stroke-width="0.4">24</text>
<text x="190.6" y="502.5" font-size="16.2" fill="#5f5f5f" font-weight="normal" text-anchor="start" textLength="37.8" lengthAdjust="spacingAndGlyphs" stroke="#5f5f5f" stroke-width="0.3">ріпак</text>
<text x="276.6" y="502.5" font-size="16.2" fill="#5f5f5f" font-weight="normal" text-anchor="start" textLength="66.2" lengthAdjust="spacingAndGlyphs" stroke="#5f5f5f" stroke-width="0.3">пшениця</text>
<text x="384.4" y="502.5" font-size="16.2" fill="#5f5f5f" font-weight="normal" text-anchor="start" textLength="49.2" lengthAdjust="spacingAndGlyphs" stroke="#5f5f5f" stroke-width="0.3">ячмінь</text>
<text x="489.6" y="502.5" font-size="16.2" fill="#5f5f5f" font-weight="normal" text-anchor="start" textLength="36.8" lengthAdjust="spacingAndGlyphs" stroke="#5f5f5f" stroke-width="0.3">жито</text>
<g>
<path d="M213.3,551.8 C213,548 212.8,546 212.2,543.5 C211.4,541.6 210.4,540.4 209,539.5 M212.2,543.5 C211.6,540 211.5,536 211.7,532.2 M212.5,545 C212.8,539 214,534 215.9,529.8" fill="none" stroke="#757575" stroke-width="0.9" stroke-linecap="round"/>
<ellipse cx="205.80" cy="536.70" rx="4.4" ry="1.75" transform="rotate(36 205.80 536.70)" fill="#757575"/>
<ellipse cx="211.80" cy="527.80" rx="4.5" ry="1.75" transform="rotate(-83 211.80 527.80)" fill="#757575"/>
<ellipse cx="217.90" cy="525.90" rx="4.5" ry="1.6" transform="rotate(-65 217.90 525.90)" fill="#757575"/>
</g>
<g>
<path d="M307.65,539 V554" stroke="#8a8a8a" stroke-width="0.9" fill="none"/>
<ellipse cx="307.65" cy="522.10" rx="1.55" ry="2.75" transform="rotate(0 307.65 522.10)" fill="#6e6e6e"/>
<ellipse cx="305.10" cy="525.50" rx="2.85" ry="1.8" transform="rotate(38 305.10 525.50)" fill="#6e6e6e"/>
<ellipse cx="310.20" cy="525.50" rx="2.85" ry="1.8" transform="rotate(-38 310.20 525.50)" fill="#6e6e6e"/>
<ellipse cx="305.10" cy="529.70" rx="2.85" ry="1.8" transform="rotate(38 305.10 529.70)" fill="#6e6e6e"/>
<ellipse cx="310.20" cy="529.70" rx="2.85" ry="1.8" transform="rotate(-38 310.20 529.70)" fill="#6e6e6e"/>
<ellipse cx="305.10" cy="533.90" rx="2.85" ry="1.8" transform="rotate(38 305.10 533.90)" fill="#6e6e6e"/>
<ellipse cx="310.20" cy="533.90" rx="2.85" ry="1.8" transform="rotate(-38 310.20 533.90)" fill="#6e6e6e"/>
<ellipse cx="305.10" cy="538.30" rx="3.1920000000000006" ry="2.0160000000000005" transform="rotate(38 305.10 538.30)" fill="#6e6e6e"/>
<ellipse cx="310.20" cy="538.30" rx="3.1920000000000006" ry="2.0160000000000005" transform="rotate(-38 310.20 538.30)" fill="#6e6e6e"/>
</g>
<g>
<path d="M402.9,539.5 V548.8" stroke="#b9b9b9" stroke-width="1.8" fill="none"/>
<rect x="400.29999999999995" y="520.6" width="5.2" height="19.2" rx="2.2" fill="#9a9a9a"/>
<path d="M400.4,522.8 L399.5,519.6 L401.7,521.2 L402.9,518.8 L404.09999999999997,521.2 L406.29999999999995,519.6 L405.4,522.8Z" fill="#858585"/>
<ellipse cx="401.45" cy="522.60" rx="1.45" ry="0.8" transform="rotate(-18 401.45 522.60)" fill="#7c7c7c"/>
<ellipse cx="404.35" cy="522.60" rx="1.45" ry="0.8" transform="rotate(18 404.35 522.60)" fill="#7c7c7c"/>
<ellipse cx="401.45" cy="524.35" rx="1.45" ry="0.8" transform="rotate(-18 401.45 524.35)" fill="#7c7c7c"/>
<ellipse cx="404.35" cy="524.35" rx="1.45" ry="0.8" transform="rotate(18 404.35 524.35)" fill="#7c7c7c"/>
<ellipse cx="401.45" cy="526.10" rx="1.45" ry="0.8" transform="rotate(-18 401.45 526.10)" fill="#7c7c7c"/>
<ellipse cx="404.35" cy="526.10" rx="1.45" ry="0.8" transform="rotate(18 404.35 526.10)" fill="#7c7c7c"/>
<ellipse cx="401.45" cy="527.85" rx="1.45" ry="0.8" transform="rotate(-18 401.45 527.85)" fill="#7c7c7c"/>
<ellipse cx="404.35" cy="527.85" rx="1.45" ry="0.8" transform="rotate(18 404.35 527.85)" fill="#7c7c7c"/>
<ellipse cx="401.45" cy="529.60" rx="1.45" ry="0.8" transform="rotate(-18 401.45 529.60)" fill="#7c7c7c"/>
<ellipse cx="404.35" cy="529.60" rx="1.45" ry="0.8" transform="rotate(18 404.35 529.60)" fill="#7c7c7c"/>
<ellipse cx="401.45" cy="531.35" rx="1.45" ry="0.8" transform="rotate(-18 401.45 531.35)" fill="#7c7c7c"/>
<ellipse cx="404.35" cy="531.35" rx="1.45" ry="0.8" transform="rotate(18 404.35 531.35)" fill="#7c7c7c"/>
<ellipse cx="401.45" cy="533.10" rx="1.45" ry="0.8" transform="rotate(-18 401.45 533.10)" fill="#7c7c7c"/>
<ellipse cx="404.35" cy="533.10" rx="1.45" ry="0.8" transform="rotate(18 404.35 533.10)" fill="#7c7c7c"/>
<ellipse cx="401.45" cy="534.85" rx="1.45" ry="0.8" transform="rotate(-18 401.45 534.85)" fill="#7c7c7c"/>
<ellipse cx="404.35" cy="534.85" rx="1.45" ry="0.8" transform="rotate(18 404.35 534.85)" fill="#7c7c7c"/>
<ellipse cx="401.45" cy="536.60" rx="1.45" ry="0.8" transform="rotate(-18 401.45 536.60)" fill="#7c7c7c"/>
<ellipse cx="404.35" cy="536.60" rx="1.45" ry="0.8" transform="rotate(18 404.35 536.60)" fill="#7c7c7c"/>
<ellipse cx="401.45" cy="538.35" rx="1.45" ry="0.8" transform="rotate(-18 401.45 538.35)" fill="#7c7c7c"/>
<ellipse cx="404.35" cy="538.35" rx="1.45" ry="0.8" transform="rotate(18 404.35 538.35)" fill="#7c7c7c"/>
</g>
<g>
<path d="M506.6,533 L506.5,548.4 L507.7,548.4 C508.4,542.5 510.4,537.5 513.4,533.3 C509.2,535.4 507.6,538.6 507.4,541.6 L507.3,533Z" fill="#6c6c6c"/>
<ellipse cx="506.05" cy="519.30" rx="1.55" ry="2.45" transform="rotate(4 506.05 519.30)" fill="#6c6c6c"/>
<ellipse cx="504.80" cy="524.30" rx="2.5" ry="1.3" transform="rotate(40 504.80 524.30)" fill="#6c6c6c"/>
<ellipse cx="504.50" cy="527.40" rx="2.6" ry="1.35" transform="rotate(40 504.50 527.40)" fill="#6c6c6c"/>
<ellipse cx="504.20" cy="531.10" rx="3.4" ry="1.8" transform="rotate(42 504.20 531.10)" fill="#6c6c6c"/>
<ellipse cx="509.40" cy="522.50" rx="2.5" ry="1.3" transform="rotate(-42 509.40 522.50)" fill="#6c6c6c"/>
<ellipse cx="509.70" cy="525.80" rx="2.6" ry="1.35" transform="rotate(-42 509.70 525.80)" fill="#6c6c6c"/>
<ellipse cx="509.90" cy="529.20" rx="3.4" ry="1.65" transform="rotate(-42 509.90 529.20)" fill="#6c6c6c"/>
<ellipse cx="507.00" cy="527.00" rx="1.4" ry="4.4" transform="rotate(6 507.00 527.00)" fill="#6c6c6c"/>
</g>
<rect x="0" y="563" width="1024" height="6" fill="#c55a11"/>
<text x="983.8" y="550.0" font-size="5.9" fill="#262626" font-weight="normal" text-anchor="end" textLength="44.0" lengthAdjust="spacingAndGlyphs">Powered by Bing</text>
<text x="983.8" y="557.8" font-size="5.9" fill="#262626" font-weight="normal" text-anchor="end" textLength="88.4" lengthAdjust="spacingAndGlyphs">© GeoNames, Microsoft, TomTom</text>
</svg>
</body>
</html>
